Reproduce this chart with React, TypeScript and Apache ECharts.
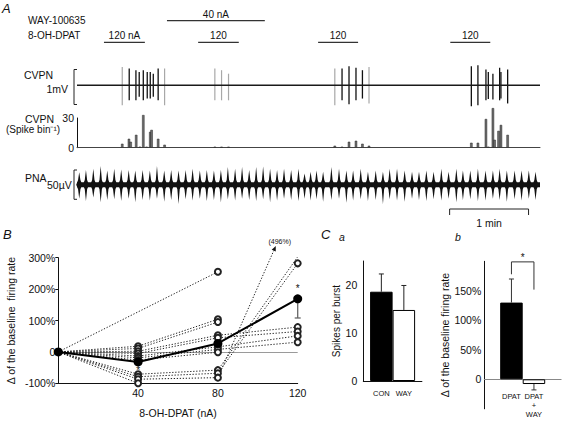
import { useEffect, useRef } from "react";
import * as echarts from "echarts";

const FONT = "Liberation Sans";
const INK = "#111";

// ---------------- Panel A : recording, time in seconds ----------------
const recordStart = 0;
const recordEnd = 352;
const stimRows = ["WAY-100635", "8-OH-DPAT"];
const wayStart = [68.4];
const wayEnd = [142.8];
const wayDose = ["40 nA"];
const dpatStart = [20.5, 92.1, 183.3, 283.8];
const dpatEnd = [51.6, 123.0, 213.7, 314.2];
const dpatDose = ["120 nA", "120", "120", "120"];

// CVPN raw trace (mV), calibration 1 mV
const cvpnRange = [-0.55, 0.45];
const spikeTimes = [39.7, 44.8, 47.3, 50.4, 53.4, 55.7, 58.0, 61.7, 201.5, 206.8, 212.1, 217.0, 299.8, 304.8, 310.9, 312.7, 316.2, 321.3, 322.3, 327.4];
const spikeUp = [0.48, 0.43, 0.38, 0.43, 0.38, 0.38, 0.33, 0.48, 0.48, 0.54, 0.5, 0.43, 0.54, 0.57, 0.45, 0.38, 0.33, 0.5, 0.38, 0.45];
const spikeDown = [0.43, 0.43, 0.33, 0.43, 0.38, 0.38, 0.33, 0.43, 0.43, 0.54, 0.43, 0.38, 0.6, 0.57, 0.43, 0.39, 0.41, 0.43, 0.38, 0.52];
const faintSpikeTimes = [34.4, 66.6, 104.8, 109.9, 115.2, 196.0, 222.0];
const faintSpikeUp = [0.52, 0.48, 0.48, 0.43, 0.33, 0.48, 0.52];
const faintSpikeDown = [0.57, 0.57, 0.43, 0.43, 0.43, 0.57, 0.52];

// CVPN histogram (spikes per bin)
const histTimes = [34.4, 39.5, 40.8, 45.0, 47.8, 50.4, 52.9, 55.7, 56.7, 61.7, 66.6, 104.8, 109.9, 115.2, 196.0, 201.5, 206.8, 212.1, 217.0, 222.0, 299.8, 304.8, 310.9, 312.7, 316.2, 317.5, 320.5, 322.3, 327.4];
const histCounts = [4, 9, 6, 13, 1, 33, 1, 16, 18, 9, 3, 1, 1, 1, 2, 1, 6, 7, 4, 2, 5, 5, 29, 1, 40, 8, 17, 23, 13];
const histTicks = [0, 30];

// PNA (µV), calibration 50 µV
const pnaRange = [-25, 25];
const pnaBurstTimes = [
  1.7, 6.8, 12.4, 18.0, 23.0, 28.3, 33.6, 39.3, 44.3, 49.9,
  55.4, 60.8, 66.3, 71.6, 77.2, 82.6, 87.9, 93.4, 98.7, 104.1,
  109.4, 114.7, 120.2, 125.5, 130.9, 136.2, 141.5, 146.8, 152.1, 157.4,
  162.8, 168.4,
  173.0, 177.6, 182.1, 187.1, 193.4, 199.2, 204.8, 209.9, 215.7, 221.2,
  227.1, 232.6, 237.7, 243.3, 249.1, 254.7, 260.0, 265.6, 271.1, 277.0,
  282.5, 288.4, 293.4, 299.0, 304.8, 310.6, 316.2, 321.3, 326.8, 332.7,
  338.0, 343.5, 348.6,
];
const pnaUp = [
  21, 25, 27, 32, 24, 27, 26, 25, 24, 25, 24, 32, 24, 25, 24, 25, 27, 24, 25, 24,
  25, 30, 27, 30, 25, 30, 31, 27, 25, 27, 25, 27,
  19, 22, 24, 22, 30, 27, 24, 24, 27, 22, 24, 22, 27, 27, 24, 22, 22, 24,
  22, 27, 22, 27, 24, 24, 27, 24, 24, 27, 24, 24, 24, 24, 22,
];
const pnaDown = [
  24, 28, 22, 30, 26, 25, 28, 24, 30, 26, 27, 24, 29, 26, 33, 25, 27, 24, 28, 26,
  30, 25, 27, 24, 26, 28, 25, 30, 27, 24, 26, 28,
  24, 27, 25, 29, 26, 24, 31, 27, 25, 28, 26, 33, 25, 27, 29, 24, 26, 28,
  25, 27, 24, 30, 26, 25, 28, 27, 24, 26, 29, 25, 27, 24, 26,
];
const scaleBarStart = 283.3;
const scaleBarSeconds = 60;

// ---------------- Panel B ----------------
const doses = [0, 40, 80, 120];
const subjectChanges = [
  [0, null, 255, null],
  [0, 18, 104, null],
  [0, 11, 95, null],
  [0, 2, 53, 79],
  [0, -5, 45, 65],
  [0, -13, 16, 51],
  [0, -19, 8, 31],
  [0, -26, -1, null],
  [0, -71, -58, 303],
  [0, -79, -68, 282],
  [0, -87, -82, 496],
  [0, -100, null, null],
];
const meanChange = [0, -32, 27, 169];
const meanErrLow = [0, 0, 0, 61];
const sigDosesB = [40, 120];
const sigSideB = [-1, 1];
const bYTicks = [-100, 0, 100, 200, 300];
const bDrawCap = 337;

// ---------------- Panel C ----------------
const caNames = ["CON", "WAY"];
const caMeans = [18.6, 14.8];
const caErr = [3.7, 5.1];
const cbNames = ["DPAT", "DPAT\n+\nWAY"];
const cbMeans = [130, -8];
const cbErr = [40, 10];
const cbSigBracket = [178, 199, 152];

const BAR_W = 22.5;

const txt = (text, x, y, opt = {}) => ({
  type: "text",
  x,
  y,
  silent: true,
  style: {
    text,
    fill: INK,
    fontFamily: FONT,
    fontSize: opt.fontSize || 10.5,
    align: opt.align || "left",
    textAlign: opt.align || "left",
    verticalAlign: "middle",
    textVerticalAlign: "middle",
    fontStyle: opt.italic ? "italic" : "normal",
  },
});

function bracketRender(params, api) {
  const lo = api.coord([api.value(0), api.value(1)]);
  const hi = api.coord([api.value(0), api.value(2)]);
  const x = lo[0] - 3;
  return {
    type: "polyline",
    shape: { points: [[x + 3, lo[1]], [x, lo[1]], [x, hi[1]], [x + 3, hi[1]]] },
    style: { stroke: "#222", lineWidth: 1, fill: "none" },
  };
}

function buildOption() {
  const timeX = (i) => ({
    gridIndex: i,
    type: "value",
    min: recordStart,
    max: recordEnd,
    show: i === 2,
    axisLine: { show: true, lineStyle: { color: "#444", width: 1 } },
    axisTick: { show: false },
    axisLabel: { show: false },
    splitLine: { show: false },
  });

  const stimData = [
    ...wayStart.map((s, i) => [s, wayEnd[i], 0]),
    ...dpatStart.map((s, i) => [s, dpatEnd[i], 1]),
  ];
  const stimText = [...wayDose, ...dpatDose];

  const subjectSeries = subjectChanges.map((vals, si) => {
    const data = [];
    vals.forEach((v, j) => {
      if (v !== null && v <= bDrawCap) {
        data.push({ value: [doses[j], v], symbol: doses[j] === 0 ? "none" : "emptyCircle" });
      }
    });
    return {
      type: "line",
      xAxisIndex: 5,
      yAxisIndex: 5,
      data,
      symbolSize: 6,
      lineStyle: { color: "#222", width: 1, type: [1.3, 1.7] },
      itemStyle: { color: "#222", borderWidth: 1 },
      z: 2,
      silent: true,
      markLine:
        si === 0
          ? {
              silent: true,
              symbol: "none",
              label: { show: false },
              lineStyle: { color: "#9a9a9a", type: "solid", width: 1 },
              data: [{ yAxis: 0 }],
              z: 1,
            }
          : undefined,
    };
  });

  const offScale = [];
  subjectChanges.forEach((vals) => {
    vals.forEach((v, j) => {
      if (v !== null && v > bDrawCap && j > 0 && vals[j - 1] !== null) {
        offScale.push([doses[j - 1], vals[j - 1], doses[j], v]);
      }
    });
  });

  return {
    animation: false,
    backgroundColor: "#fff",
    textStyle: { fontFamily: FONT, color: INK },
    grid: [
      { left: 77, width: 463, top: 9.9, height: 43.2 },
      { left: 77, width: 463, top: 69.5, height: 35 },
      { left: 77, width: 463, top: 118, height: 29.7 },
      { left: 77, width: 463, top: 170, height: 29.3 },
      { left: 77, width: 463, top: 209, height: 6 },
      { left: 58.3, width: 239.4, top: 257.7, height: 125.6 },
      { left: 363.3, width: 58.6, top: 261, height: 120 },
      { left: 484.3, width: 76.8, top: 261.3, height: 147.5 },
    ],
    xAxis: [
      timeX(0),
      timeX(1),
      timeX(2),
      timeX(3),
      timeX(4),
      {
        gridIndex: 5,
        type: "value",
        min: 0,
        max: 120,
        interval: 40,
        axisLine: { onZero: false, lineStyle: { color: INK, width: 1 } },
        axisTick: { show: false },
        splitLine: { show: false },
        axisLabel: { formatter: (v) => (v === 0 ? "" : String(v)), fontSize: 10.5, color: INK, margin: 4 },
        name: "8-OH-DPAT (nA)",
        nameLocation: "middle",
        nameGap: 24,
        nameTextStyle: { fontSize: 10.5, color: INK },
      },
      {
        gridIndex: 6,
        type: "category",
        data: ["burst"],
        axisLine: { lineStyle: { color: INK, width: 1 } },
        axisTick: { show: false },
        axisLabel: { show: false },
      },
      {
        gridIndex: 7,
        type: "category",
        data: ["rate"],
        axisLine: { lineStyle: { color: "#888", width: 1 } },
        axisTick: { show: false },
        axisLabel: { show: false },
      },
    ],
    yAxis: [
      {
        gridIndex: 0,
        type: "category",
        data: stimRows,
        inverse: true,
        show: false,
      },
      { gridIndex: 1, type: "value", min: cvpnRange[0], max: cvpnRange[1], show: false, splitLine: { show: false } },
      {
        gridIndex: 2,
        type: "value",
        min: histTicks[0],
        max: histTicks[1],
        interval: histTicks[1],
        axisLine: { show: true, lineStyle: { color: INK, width: 1 } },
        axisTick: { show: false },
        splitLine: { show: false },
        axisLabel: { fontSize: 10.5, color: INK, margin: 3 },
      },
      { gridIndex: 3, type: "value", min: pnaRange[0], max: pnaRange[1], show: false, splitLine: { show: false } },
      { gridIndex: 4, type: "value", min: 0, max: 1, show: false, splitLine: { show: false } },
      {
        gridIndex: 5,
        type: "value",
        min: bYTicks[0],
        max: bYTicks[bYTicks.length - 1],
        interval: 100,
        axisLine: { show: true, lineStyle: { color: INK, width: 1 } },
        axisTick: { show: true, length: 3, lineStyle: { color: INK } },
        splitLine: { show: false },
        axisLabel: { fontSize: 10.5, color: INK, margin: 3, formatter: (v) => (v === 0 ? "0" : v + "%") },
        name: "\u0394 of the baseline  firing rate",
        nameLocation: "middle",
        nameGap: 42,
        nameTextStyle: { fontSize: 10.5, color: INK },
      },
      {
        gridIndex: 6,
        type: "value",
        min: 0,
        max: 25,
        interval: 10,
        axisLine: { show: true, lineStyle: { color: INK, width: 1 } },
        axisTick: { show: false },
        splitLine: { show: false },
        axisLabel: { fontSize: 10.5, color: INK, margin: 6, formatter: (v) => (v % 10 === 0 ? String(v) : "") },
        name: "Spikes per burst",
        nameLocation: "middle",
        nameGap: 22,
        nameTextStyle: { fontSize: 10, color: INK },
      },
      {
        gridIndex: 7,
        type: "value",
        min: -50,
        max: 200,
        interval: 50,
        axisLine: { show: true, onZero: false, lineStyle: { color: INK, width: 1 } },
        axisTick: { show: false },
        splitLine: { show: false },
        axisLabel: {
          fontSize: 10.5,
          color: INK,
          margin: 3,
          formatter: (v) => (v <= -50 || v >= 200 ? "" : v === 0 ? "0" : v + "%"),
        },
        name: "\u0394 of the baseline firing rate",
        nameLocation: "middle",
        nameGap: 30,
        nameTextStyle: { fontSize: 10.5, color: INK },
      },
    ],
    series: [
      // stimulus bars
      {
        type: "custom",
        xAxisIndex: 0,
        yAxisIndex: 0,
        data: stimData,
        encode: { x: [0, 1], y: 2 },
        silent: true,
        renderItem: (p, api) => {
          const a = api.coord([api.value(0), api.value(2)]);
          const b = api.coord([api.value(1), api.value(2)]);
          return {
            type: "group",
            children: [
              { type: "line", shape: { x1: a[0], y1: a[1], x2: b[0], y2: b[1] }, style: { stroke: "#333", lineWidth: 1.2 } },
              {
                type: "text",
                x: (a[0] + b[0]) / 2,
                y: a[1] - 6.5,
                style: {
                  text: stimText[p.dataIndex],
                  align: "center",
                  verticalAlign: "middle",
                  fontSize: 10,
                  fontFamily: FONT,
                  fill: INK,
                },
              },
            ],
          };
        },
      },
      // CVPN baseline
      {
        type: "line",
        xAxisIndex: 1,
        yAxisIndex: 1,
        data: [[recordStart, 0], [recordEnd, 0]],
        symbol: "none",
        silent: true,
        lineStyle: { color: "#1a1a1a", width: 1.7 },
      },
      // CVPN spikes
      {
        type: "custom",
        xAxisIndex: 1,
        yAxisIndex: 1,
        data: faintSpikeTimes.map((t, i) => [t, faintSpikeUp[i], faintSpikeDown[i]]),
        encode: { x: 0, y: [1, 2] },
        silent: true,
        renderItem: (p, api) => {
          const a = api.coord([api.value(0), api.value(1)]);
          const b = api.coord([api.value(0), -api.value(2)]);
          return { type: "line", shape: { x1: a[0], y1: a[1], x2: b[0], y2: b[1] }, style: { stroke: "#a8a8a8", lineWidth: 1.2 } };
        },
      },
      {
        type: "custom",
        xAxisIndex: 1,
        yAxisIndex: 1,
        data: spikeTimes.map((t, i) => [t, spikeUp[i], spikeDown[i]]),
        encode: { x: 0, y: [1, 2] },
        silent: true,
        renderItem: (p, api) => {
          const a = api.coord([api.value(0), api.value(1)]);
          const b = api.coord([api.value(0), -api.value(2)]);
          return { type: "line", shape: { x1: a[0], y1: a[1], x2: b[0], y2: b[1] }, style: { stroke: "#111", lineWidth: 1.3 } };
        },
      },
      {
        type: "custom",
        xAxisIndex: 1,
        yAxisIndex: 1,
        data: [[recordStart, cvpnRange[0], cvpnRange[1]]],
        encode: { x: 0, y: [1, 2] },
        silent: true,
        renderItem: bracketRender,
      },
      // histogram
      {
        type: "bar",
        xAxisIndex: 2,
        yAxisIndex: 2,
        data: histTimes.map((t, i) => [t, histCounts[i]]),
        barWidth: 2.4,
        clip: false,
        silent: true,
        itemStyle: { color: "#6e6e6e", borderColor: "#262626", borderWidth: 0.5 },
      },
      // PNA band
      {
        type: "line",
        xAxisIndex: 3,
        yAxisIndex: 3,
        data: [[recordStart, 0], [recordEnd, 0]],
        symbol: "none",
        silent: true,
        lineStyle: { color: "#111", width: 5 },
      },
      {
        type: "custom",
        xAxisIndex: 3,
        yAxisIndex: 3,
        data: pnaBurstTimes.map((t, i) => [t, pnaUp[i], pnaDown[i]]),
        encode: { x: 0, y: [1, 2] },
        silent: true,
        renderItem: (p, api) => {
          const t = api.value(0);
          const up = api.value(1);
          const dn = api.value(2);
          const pts = [
            [t - 2.3, 0], [t - 0.9, 8], [t, up], [t + 0.9, 8], [t + 2.3, 0], [t + 0.9, -8], [t, -dn], [t - 0.9, -8],
          ].map((q) => api.coord(q));
          return { type: "polygon", shape: { points: pts }, style: { fill: "#111" } };
        },
      },
      {
        type: "custom",
        xAxisIndex: 3,
        yAxisIndex: 3,
        data: [[recordStart, pnaRange[0], pnaRange[1]]],
        encode: { x: 0, y: [1, 2] },
        silent: true,
        renderItem: bracketRender,
      },
      // time scale bar
      {
        type: "custom",
        xAxisIndex: 4,
        yAxisIndex: 4,
        data: [[scaleBarStart, scaleBarStart + scaleBarSeconds]],
        encode: { x: [0, 1] },
        silent: true,
        renderItem: (p, api) => {
          const a = api.coord([api.value(0), 1]);
          const b = api.coord([api.value(1), 1]);
          const base = api.coord([api.value(0), 0])[1];
          return {
            type: "group",
            children: [
              {
                type: "polyline",
                shape: { points: [[a[0], base], [a[0], a[1]], [b[0], b[1]], [b[0], base]] },
                style: { stroke: "#222", lineWidth: 1, fill: "none" },
              },
              {
                type: "text",
                x: (a[0] + b[0]) / 2,
                y: base + 8,
                style: { text: "1 min", align: "center", verticalAlign: "middle", fontSize: 10.5, fontFamily: FONT, fill: INK },
              },
            ],
          };
        },
      },
      // Panel B
      ...subjectSeries,
      {
        type: "custom",
        xAxisIndex: 5,
        yAxisIndex: 5,
        data: offScale,
        encode: { x: [0, 2], y: [1, 3] },
        silent: true,
        z: 2,
        renderItem: (p, api) => {
          const x0 = api.value(0), v0 = api.value(1), x1 = api.value(2), v1 = api.value(3);
          const f = (bDrawCap - v0) / (v1 - v0);
          const p0 = api.coord([x0, v0]);
          const pe = api.coord([x0 + f * (x1 - x0), bDrawCap]);
          const ang = Math.atan2(pe[1] - p0[1], pe[0] - p0[0]);
          const L = 5, W = 2.2;
          const bx = pe[0] - L * Math.cos(ang), by = pe[1] - L * Math.sin(ang);
          return {
            type: "group",
            children: [
              {
                type: "line",
                shape: { x1: p0[0], y1: p0[1], x2: bx, y2: by },
                style: { stroke: "#222", lineWidth: 1, lineDash: [1.3, 1.7] },
              },
              {
                type: "polygon",
                shape: {
                  points: [
                    [pe[0], pe[1]],
                    [bx - W * Math.sin(ang), by + W * Math.cos(ang)],
                    [bx + W * Math.sin(ang), by - W * Math.cos(ang)],
                  ],
                },
                style: { fill: "#111" },
              },
              {
                type: "text",
                x: pe[0] + 4,
                y: pe[1] - 5,
                style: { text: `(${v1}%)`, align: "center", verticalAlign: "middle", fontSize: 7, fontFamily: FONT, fill: INK },
              },
            ],
          };
        },
      },
      {
        type: "line",
        xAxisIndex: 5,
        yAxisIndex: 5,
        data: doses.map((d, i) => [d, meanChange[i]]),
        symbol: "circle",
        symbolSize: 9,
        silent: true,
        z: 4,
        lineStyle: { color: "#000", width: 2 },
        itemStyle: { color: "#000" },
      },
      {
        type: "custom",
        xAxisIndex: 5,
        yAxisIndex: 5,
        data: doses.map((d, i) => [d, meanChange[i], meanErrLow[i]]).filter((r) => r[2] > 0),
        encode: { x: 0, y: 1 },
        silent: true,
        z: 3,
        renderItem: (p, api) => {
          const a = api.coord([api.value(0), api.value(1)]);
          const b = api.coord([api.value(0), api.value(1) - api.value(2)]);
          return {
            type: "group",
            children: [
              { type: "line", shape: { x1: a[0], y1: a[1], x2: b[0], y2: b[1] }, style: { stroke: "#666", lineWidth: 1.3 } },
              { type: "line", shape: { x1: b[0] - 3, y1: b[1], x2: b[0] + 3, y2: b[1] }, style: { stroke: "#666", lineWidth: 1.3 } },
            ],
          };
        },
      },
      {
        type: "custom",
        xAxisIndex: 5,
        yAxisIndex: 5,
        data: sigDosesB.map((d, i) => [d, meanChange[doses.indexOf(d)], sigSideB[i]]),
        encode: { x: 0, y: 1 },
        silent: true,
        z: 5,
        renderItem: (p, api) => {
          const c = api.coord([api.value(0), api.value(1)]);
          const side = api.value(2);
          return {
            type: "text",
            x: c[0],
            y: c[1] + (side > 0 ? -10 : 9),
            style: { text: "*", align: "center", verticalAlign: "middle", fontSize: 10, fontFamily: FONT, fill: INK },
          };
        },
      },
      // Panel Ca
      ...caNames.map((n, i) => ({
        type: "bar",
        name: n,
        xAxisIndex: 6,
        yAxisIndex: 6,
        data: [caMeans[i]],
        barWidth: BAR_W,
        barGap: "0%",
        silent: true,
        itemStyle: { color: i === 0 ? "#000" : "#fff", borderColor: "#000", borderWidth: 1 },
        label: { show: true, position: "bottom", distance: 8, formatter: n, fontSize: 7.5, color: INK, fontFamily: FONT },
      })),
      {
        type: "custom",
        xAxisIndex: 6,
        yAxisIndex: 6,
        data: caMeans.map((m, i) => [0, m, caErr[i], i]),
        encode: { x: 0, y: 1 },
        silent: true,
        z: 3,
        renderItem: (p, api) => {
          const c = api.coord([0, api.value(1)]);
          const t = api.coord([0, api.value(1) + api.value(2)]);
          const x = c[0] + (api.value(3) - 0.5) * BAR_W;
          return {
            type: "group",
            children: [
              { type: "line", shape: { x1: x, y1: c[1], x2: x, y2: t[1] }, style: { stroke: "#222", lineWidth: 1 } },
              { type: "line", shape: { x1: x - 2.5, y1: t[1], x2: x + 2.5, y2: t[1] }, style: { stroke: "#222", lineWidth: 1 } },
            ],
          };
        },
      },
      // Panel Cb
      ...cbNames.map((n, i) => ({
        type: "bar",
        name: n,
        xAxisIndex: 7,
        yAxisIndex: 7,
        data: [cbMeans[i]],
        barWidth: BAR_W,
        barGap: "0%",
        silent: true,
        itemStyle: { color: i === 0 ? "#000" : "#fff", borderColor: "#000", borderWidth: 1 },
        label: {
          show: true,
          position: "bottom",
          distance: i === 0 ? 13 : 8,
          formatter: n,
          fontSize: 7.5,
          lineHeight: 9,
          color: INK,
          fontFamily: FONT,
        },
      })),
      {
        type: "custom",
        xAxisIndex: 7,
        yAxisIndex: 7,
        data: cbMeans.map((m, i) => [0, m, cbErr[i], i]),
        encode: { x: 0, y: 1 },
        silent: true,
        z: 3,
        renderItem: (p, api) => {
          const m = api.value(1);
          const c = api.coord([0, m]);
          const t = api.coord([0, m + Math.sign(m) * api.value(2)]);
          const x = c[0] + (api.value(3) - 0.5) * BAR_W;
          return {
            type: "group",
            children: [
              { type: "line", shape: { x1: x, y1: c[1], x2: x, y2: t[1] }, style: { stroke: "#333", lineWidth: 1 } },
              { type: "line", shape: { x1: x - 2.5, y1: t[1], x2: x + 2.5, y2: t[1] }, style: { stroke: "#333", lineWidth: 1 } },
            ],
          };
        },
      },
      {
        type: "custom",
        xAxisIndex: 7,
        yAxisIndex: 7,
        data: [[0, cbSigBracket[0], cbSigBracket[1], cbSigBracket[2]]],
        encode: { x: 0, y: [1, 2, 3] },
        silent: true,
        renderItem: (p, api) => {
          const l = api.coord([0, api.value(1)]);
          const t = api.coord([0, api.value(2)]);
          const r = api.coord([0, api.value(3)]);
          const xl = l[0] - BAR_W / 2;
          const xr = l[0] + BAR_W / 2;
          return {
            type: "group",
            children: [
              {
                type: "polyline",
                shape: { points: [[xl, l[1]], [xl, t[1]], [xr, t[1]], [xr, r[1]]] },
                style: { stroke: "#333", lineWidth: 1, fill: "none" },
              },
              {
                type: "text",
                x: (xl + xr) / 2,
                y: t[1] - 4,
                style: { text: "*", align: "center", verticalAlign: "middle", fontSize: 10, fontFamily: FONT, fill: INK },
              },
            ],
          };
        },
      },
    ],
    graphic: [
      txt("A", 2, 8, { italic: true, fontSize: 13 }),
      txt(stimRows[0], 28, 20.7, { fontSize: 10 }),
      txt(stimRows[1], 28, 35.5, { fontSize: 10 }),
      txt("CVPN", 24, 75),
      txt("1mV", 68, 88.5, { align: "right" }),
      txt("CVPN", 25, 118.5),
      txt("(Spike bin\u207B\u00B9)", 6, 129, { fontSize: 10 }),
      txt("PNA", 25, 177.5),
      txt("50\u00B5V", 47, 185),
      txt("B", 3, 234, { italic: true, fontSize: 13 }),
      txt("C", 321, 234, { italic: true, fontSize: 13 }),
      txt("a", 339, 237, { italic: true, fontSize: 10.5 }),
      txt("b", 455, 237, { italic: true, fontSize: 10.5 }),
    ],
  };
}

export default function App() {
  const ref = useRef(null);
  useEffect(() => {
    const chart = echarts.init(ref.current, undefined, { renderer: "svg" });
    chart.setOption(buildOption());
    return () => chart.dispose();
  }, []);
  return (
    <div
      ref={ref}
      style={{ position: "fixed", left: 0, top: 0, width: 565, height: 422, background: "#fff" }}
    />
  );
}
